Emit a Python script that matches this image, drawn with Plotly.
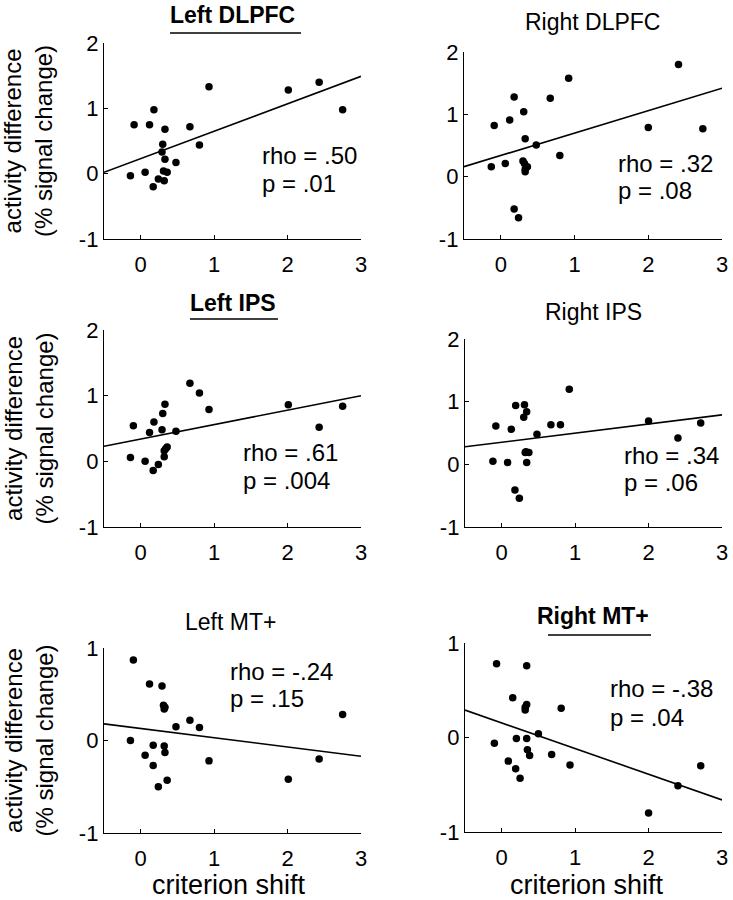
import plotly.graph_objects as go

W, H = 733, 900
FONT = "Liberation Sans, Arial, Helvetica, sans-serif"

titles = ["Left DLPFC", "Right DLPFC", "Left IPS", "Right IPS", "Left MT+", "Right MT+"]
title_bold = [True, False, True, False, False, True]
rho_labels = ["rho = .50", "rho = .32", "rho = .61", "rho = .34", "rho = -.24", "rho = -.38"]
p_labels = ["p = .01", "p = .08", "p = .004", "p = .06", "p = .15", "p = .04"]

x_left_dlpfc = [-0.14, -0.09, 0.06, 0.12, 0.18, 0.17, 0.24, 0.29, 0.30, 0.32, 0.33, 0.33, 0.31, 0.36, 0.48, 0.67, 0.80, 0.93, 2.01, 2.43, 2.75]
y_left_dlpfc = [-0.03, 0.75, 0.02, 0.75, 0.98, -0.20, -0.08, 0.33, 0.45, -0.11, 0.68, 0.22, 0.04, 0.02, 0.17, 0.72, 0.44, 1.33, 1.28, 1.40, 0.98]

x_right_dlpfc = [-0.13, -0.09, 0.06, 0.12, 0.18, 0.18, 0.24, 0.30, 0.31, 0.33, 0.32, 0.36, 0.33, 0.33, 0.48, 0.67, 0.80, 0.92, 2.00, 2.41, 2.74]
y_right_dlpfc = [0.16, 0.82, 0.21, 0.91, 1.28, -0.52, -0.66, 0.25, 1.04, 0.61, 0.21, 0.16, 0.08, 0.12, 0.51, 1.26, 0.34, 1.58, 0.79, 1.80, 0.77]

x_left_ips = [-0.14, -0.10, 0.06, 0.12, 0.18, 0.17, 0.24, 0.29, 0.30, 0.33, 0.32, 0.32, 0.36, 0.34, 0.48, 0.67, 0.80, 0.93, 2.01, 2.43, 2.75]
y_left_ips = [0.06, 0.54, 0.00, 0.44, 0.60, -0.14, -0.05, 0.48, 0.73, 0.87, 0.07, 0.16, 0.22, 0.19, 0.46, 1.19, 1.04, 0.79, 0.86, 0.52, 0.84]

x_right_ips = [-0.12, -0.08, 0.08, 0.13, 0.19, 0.18, 0.24, 0.31, 0.34, 0.30, 0.32, 0.37, 0.34, 0.33, 0.48, 0.67, 0.80, 0.92, 2.00, 2.40, 2.71]
y_right_ips = [0.05, 0.61, 0.03, 0.56, 0.94, -0.41, -0.54, 0.95, 0.84, 0.75, 0.19, 0.19, 0.03, 0.20, 0.48, 0.63, 0.63, 1.20, 0.69, 0.42, 0.66]

x_left_mt = [-0.14, -0.10, 0.06, 0.12, 0.17, 0.17, 0.24, 0.29, 0.31, 0.32, 0.33, 0.32, 0.33, 0.36, 0.48, 0.67, 0.80, 0.93, 2.01, 2.43, 2.75]
y_left_mt = [0.00, 0.87, -0.16, 0.61, -0.05, -0.27, -0.50, 0.59, 0.38, 0.34, 0.36, -0.06, -0.13, -0.43, 0.15, 0.22, 0.14, -0.22, -0.42, -0.20, 0.28]

x_right_mt = [-0.10, -0.07, 0.09, 0.15, 0.20, 0.19, 0.25, 0.34, 0.34, 0.32, 0.32, 0.34, 0.35, 0.38, 0.50, 0.68, 0.81, 0.93, 2.00, 2.40, 2.71]
y_right_mt = [-0.06, 0.78, -0.25, 0.42, -0.01, -0.33, -0.43, 0.76, 0.35, 0.32, 0.29, -0.01, -0.13, -0.19, 0.04, -0.18, 0.31, -0.29, -0.80, -0.51, -0.30]

fit_x = [-0.5, 3.0]
fit_left_dlpfc = [0.02, 1.49]
fit_right_dlpfc = [0.16, 1.42]
fit_left_ips = [0.23, 1.00]
fit_right_ips = [0.28, 0.79]
fit_left_mt = [0.18, -0.17]
fit_right_mt = [0.29, -0.66]

x_range = [-0.5, 3.0]
x_ticks = [0, 1, 2, 3]
y_range_top = [-1, 2]
y_ticks_top = [-1, 0, 1, 2]
y_ticktext_top = ["-1", "0", "1", "2"]
y_range_bottom = [-1, 1]
y_ticks_bottom = [-1, 0, 1]
y_ticktext_bottom = ["-1", "0", "1"]

xs = [x_left_dlpfc, x_right_dlpfc, x_left_ips, x_right_ips, x_left_mt, x_right_mt]
ys = [y_left_dlpfc, y_right_dlpfc, y_left_ips, y_right_ips, y_left_mt, y_right_mt]
fits = [fit_left_dlpfc, fit_right_dlpfc, fit_left_ips, fit_right_ips, fit_left_mt, fit_right_mt]

# layout geometry in pixels (left, right, top, bottom)
boxes = [
    (104, 361, 43, 239),
    (464, 722, 52, 239),
    (104, 361, 330, 527),
    (465, 722, 339, 527),
    (104, 361, 648, 833),
    (465, 722, 643, 832),
]
title_pos = [(232, 15), (592, 22), (233, 303), (593, 312), (230, 622), (593, 616)]
underlines = {0: (170, 301, 33), 2: (190, 278, 319), 5: (548, 651, 635)}
stat_pos = [(260, 155, 183), (616, 163, 191), (241, 453, 480), (622, 455, 483), (228, 671, 698), (608, 688, 717)]

def px(x):
    return x / W

def py(y):
    return 1 - y / H

fig = go.Figure()
annotations = []
shapes = []

for i in range(6):
    k = i + 1
    xa = "x" if k == 1 else f"x{k}"
    ya = "y" if k == 1 else f"y{k}"
    fig.add_trace(go.Scatter(x=fit_x, y=fits[i], mode="lines",
                             line=dict(color="black", width=1.6),
                             xaxis=xa, yaxis=ya, showlegend=False, hoverinfo="skip"))
    fig.add_trace(go.Scatter(x=xs[i], y=ys[i], mode="markers",
                             marker=dict(color="black", size=7.5),
                             xaxis=xa, yaxis=ya, showlegend=False))
    l, r, t, b = boxes[i]
    bottom_row = i >= 4
    axis_common = dict(showline=True, linecolor="black", linewidth=1.4,
                       ticks="inside", ticklen=4, tickwidth=1.2, tickcolor="black",
                       showgrid=False, zeroline=False, automargin=False,
                       tickfont=dict(family=FONT, size=22, color="black"))
    fig.layout[f"xaxis{'' if k == 1 else k}"] = dict(
        domain=[px(l), px(r)], range=x_range, tickvals=x_ticks,
        anchor=ya, ticklabelstandoff=5, **axis_common)
    fig.layout[f"yaxis{'' if k == 1 else k}"] = dict(
        domain=[py(b), py(t)],
        range=y_range_bottom if bottom_row else y_range_top,
        tickvals=y_ticks_bottom if bottom_row else y_ticks_top,
        ticktext=y_ticktext_bottom if bottom_row else y_ticktext_top,
        anchor=xa, ticklabelstandoff=0, **axis_common)

    tx, ty = title_pos[i]
    txt = f"<b>{titles[i]}</b>" if title_bold[i] else titles[i]
    annotations.append(dict(x=px(tx), y=py(ty), xref="paper", yref="paper",
                            text=txt, showarrow=False, xanchor="center", yanchor="middle",
                            font=dict(family=FONT, size=23, color="black")))
    sx, sy1, sy2 = stat_pos[i]
    annotations.append(dict(x=px(sx), y=py(sy1), xref="paper", yref="paper",
                            text=rho_labels[i], showarrow=False, xanchor="left", yanchor="middle",
                            font=dict(family=FONT, size=24, color="black")))
    annotations.append(dict(x=px(sx), y=py(sy2), xref="paper", yref="paper",
                            text=p_labels[i], showarrow=False, xanchor="left", yanchor="middle",
                            font=dict(family=FONT, size=24, color="black")))

for i, (x0, x1, yy) in underlines.items():
    shapes.append(dict(type="line", xref="paper", yref="paper",
                       x0=px(x0), x1=px(x1), y0=py(yy), y1=py(yy),
                       line=dict(color="black", width=1.6)))

ylabel = "activity difference<br>(% signal change)"
for i in (0, 2, 4):
    l, r, t, b = boxes[i]
    annotations.append(dict(x=px(28), y=py((t + b) / 2), xref="paper", yref="paper",
                            text=ylabel, showarrow=False, textangle=-90,
                            xanchor="center", yanchor="middle",
                            font=dict(family=FONT, size=24, color="black")))

for i in (4, 5):
    l, r, t, b = boxes[i]
    annotations.append(dict(x=px((l + r) / 2 + (-4 if i == 4 else -7)), y=py(885), xref="paper", yref="paper",
                            text="criterion shift", showarrow=False,
                            xanchor="center", yanchor="middle",
                            font=dict(family=FONT, size=27, color="black")))

fig.update_layout(width=W, height=H, margin=dict(l=0, r=0, t=0, b=0),
                  paper_bgcolor="white", plot_bgcolor="white",
                  annotations=annotations, shapes=shapes,
                  font=dict(family=FONT, color="black"))

fig.write_html("out.html", config={"displayModeBar": False},
               post_script="document.body.style.margin='0';document.body.style.padding='0';")
